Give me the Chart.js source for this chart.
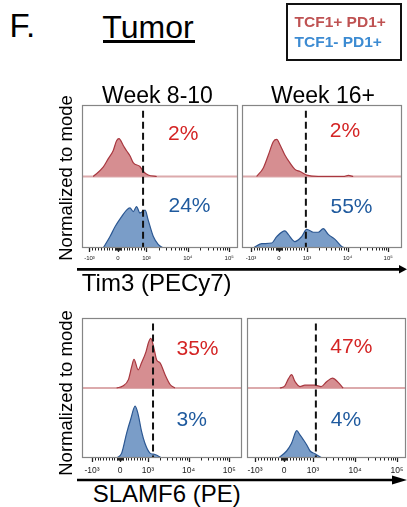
<!DOCTYPE html>
<html><head><meta charset="utf-8">
<script src="https://cdn.jsdelivr.net/npm/chart.js@4.4.1/dist/chart.umd.min.js"></script>
<style>
html,body{margin:0;padding:0;background:#fff;}
body{width:407px;height:507px;position:relative;overflow:hidden;font-family:'Liberation Sans',Arial,Helvetica,sans-serif;color:#000;}
.t{position:absolute;white-space:nowrap;line-height:1;transform:translate(-50%,-50%);}
.l{position:absolute;white-space:nowrap;line-height:1;transform:translateY(-50%);}
.r{position:absolute;white-space:nowrap;line-height:1;transform:translate(-50%,-50%) rotate(-90deg);}
canvas{position:absolute;}
svg{position:absolute;left:0;top:0;}
</style></head><body>
<script>
// ---------------- data ----------------
const PANEL_TITLE = 'Tumor';
const TIMEPOINTS = ['Week 8-10', 'Week 16+'];
const MARKERS = ['Tim3 (PECy7)', 'SLAMF6 (PE)'];
const POPULATIONS = ['TCF1+ PD1+', 'TCF1- PD1+'];
const Y_TITLE = 'Normalized to mode';

// percent positive (TCF1+ PD1+ / TCF1- PD1+) for each timepoint
const TIM3_POS_PCT = [2, 2];
const TIM3_NEG_PCT = [24, 55];
const SLAMF6_POS_PCT = [35, 47];
const SLAMF6_NEG_PCT = [3, 4];

// gate thresholds (fluorescence)
const TIM3_GATE = [880, 960];
const SLAMF6_GATE = [1330, 1170];

// axis ticks (fluorescence values) and labels
const TICK_VALUES = [-1000, 0, 1000, 10000, 100000];
const TICK_LABELS = ['-10\u00B3', '0', '10\u00B3', '10\u2074', '10\u2075'];

// histograms: x in logicle display units, y in % of mode-normalised track height
const TIM3_W8_RED_X  = [-0.87, -0.52, -0.34, -0.17, -0.05, 0.035, 0.19, 0.30, 0.42, 0.54, 0.77, 0.89, 1.06, 1.36];
const TIM3_W8_RED_Y  = [0, 13, 25, 36, 50, 53, 43, 36, 29, 19, 14, 7, 2, 0];
const TIM3_W8_BLUE_X = [-0.52, -0.28, -0.10, 0.13, 0.30, 0.42, 0.54, 0.65, 0.77, 0.95, 1.06, 1.24, 1.41, 1.59];
const TIM3_W8_BLUE_Y = [0, 16, 30, 44, 53, 56, 51, 58, 49, 53, 39, 16, 5, 0];

const TIM3_W16_RED_X  = [-0.80, -0.56, -0.38, -0.20, -0.08, 0.04, 0.21, 0.39, 0.57, 0.75, 0.99, 1.40, 2.30, 2.48, 2.65];
const TIM3_W16_RED_Y  = [0, 12, 30, 49, 52, 44, 30, 19, 10, 7, 2, 0, 0, 1.5, 0];
const TIM3_W16_BLUE_X = [-0.92, -0.62, -0.26, -0.08, 0.21, 0.33, 0.57, 0.81, 0.99, 1.23, 1.40, 1.58, 1.76, 2.00, 2.24, 2.36];
const TIM3_W16_BLUE_Y = [0, 6, 7, 16, 24, 19, 9, 16, 26, 22, 22, 27, 19, 12, 2, 0];

const SLAMF6_W8_RED_X  = [-0.12, 0.10, 0.30, 0.42, 0.50, 0.65, 0.77, 0.93, 1.01, 1.10, 1.21, 1.31, 1.43, 1.61, 1.79, 1.96];
const SLAMF6_W8_RED_Y  = [0, 3, 12, 31, 41, 26, 36, 52, 64, 71, 57, 40, 36, 19, 5, 0];
const SLAMF6_W8_BLUE_X = [-0.12, 0.06, 0.24, 0.38, 0.54, 0.65, 0.77, 0.89, 1.07, 1.25, 1.49];
const SLAMF6_W8_BLUE_Y = [0, 7, 36, 55, 74, 62, 38, 21, 7, 5, 0];

const SLAMF6_W16_RED_X  = [-0.14, 0.03, 0.15, 0.26, 0.38, 0.55, 0.72, 1.07, 1.28, 1.47, 1.67, 1.87, 2.04];
const SLAMF6_W16_RED_Y  = [0, 3, 13, 19, 9, 2, 4, 4, 2, 9, 14, 8, 0];
const SLAMF6_W16_BLUE_X = [-0.20, 0.09, 0.26, 0.44, 0.55, 0.67, 0.78, 0.90, 1.07, 1.30];
const SLAMF6_W16_BLUE_Y = [0, 10, 21, 39, 33, 26, 19, 10, 6, 0];

// ---------------- helpers ----------------
const FONT = "'Liberation Sans', Arial, Helvetica, sans-serif";
const RED_TEXT = '#d42424', BLUE_TEXT = '#1f5a9e';
// logicle-like display transform
const TX = v => Math.abs(v) <= 1000 ? v / 1000 : Math.sign(v) * (1 + 1.45 * Math.log10(Math.abs(v) / 1000));
const MINOR_VALUES = [];
for (let k = 1; k <= 9; k++) { MINOR_VALUES.push(-k * 100, k * 100); }
for (let k = 2; k <= 9; k++) { MINOR_VALUES.push(k * 1000, k * 10000); }
for (let k = 10; k <= 90; k += 20) { MINOR_VALUES.push(-k, k); }

function addText(cls, txt, x, y, size, color, extra) {
  const d = document.createElement('div');
  d.className = cls;
  d.textContent = txt;
  d.style.left = x + 'px';
  d.style.top = y + 'px';
  d.style.fontSize = size + 'px';
  d.style.color = color || '#000';
  if (extra) Object.assign(d.style, extra);
  document.body.appendChild(d);
  return d;
}

const deco = {
  id: 'deco',
  afterDraw(chart) {
    const { ctx, chartArea: a } = chart;
    const x = chart.scales.x;
    ctx.save();
    ctx.strokeStyle = '#222';
    ctx.lineWidth = 1;
    MINOR_VALUES.forEach(v => {
      const u = TX(v);
      if (u < x.min || u > x.max) return;
      const px = Math.round(x.getPixelForValue(u)) + 0.5;
      ctx.beginPath(); ctx.moveTo(px, a.bottom); ctx.lineTo(px, a.bottom + 2.5); ctx.stroke();
    });
    ctx.lineWidth = 1.3;
    TICK_VALUES.forEach(v => {
      const px = Math.round(x.getPixelForValue(TX(v))) + 0.5;
      ctx.beginPath(); ctx.moveTo(px, a.bottom); ctx.lineTo(px, a.bottom + 4); ctx.stroke();
    });
    ctx.strokeStyle = '#858585';
    ctx.lineWidth = 1.2;
    ctx.strokeRect(a.left + 0.5, a.top + 0.5, a.right - a.left - 1, a.bottom - a.top - 1);
    ctx.restore();
  }
};

const GEOM = [
  { L: 82,  T: 105, W: 156, H: 143, min: -1.263, max: 4.211, font: 6,   pad: 7 },
  { L: 242, T: 105, W: 160, H: 143, min: -1.321, max: 4.393, font: 6,   pad: 7 },
  { L: 82,  T: 318, W: 160, H: 140, min: -1.357, max: 4.357, font: 8.5, pad: 8 },
  { L: 247, T: 318, W: 159, H: 140, min: -1.276, max: 4.207, font: 8.5, pad: 8 }
];

function makePanel(i, redX, redY, blueX, blueY, gate) {
  const g = GEOM[i];
  const P = 14, AX = 22;
  const cv = document.createElement('canvas');
  cv.width = g.W + 2 * P;
  cv.height = g.H + P + AX;
  cv.style.left = (g.L - P) + 'px';
  cv.style.top = (g.T - P) + 'px';
  document.body.appendChild(cv);
  const gx = TX(gate);
  new Chart(cv, {
    type: 'line',
    data: {
      datasets: [
        { label: 'gate', data: [{ x: gx, y: 192 }, { x: gx, y: 0 }], borderColor: '#111', borderWidth: 2,
          borderDash: [7, 4], pointRadius: 0, fill: false, order: 0 },
        { label: POPULATIONS[0], data: redX.map((x, k) => ({ x, y: 100 + redY[k] })), borderColor: '#a8373f',
          borderWidth: 1.2, backgroundColor: '#d68e91', fill: { value: 100 }, pointRadius: 0,
          cubicInterpolationMode: 'monotone', order: 1 },
        { label: POPULATIONS[1], data: blueX.map((x, k) => ({ x, y: blueY[k] })), borderColor: '#2b5792',
          borderWidth: 1.2, backgroundColor: '#7a9dc8', fill: 'origin', pointRadius: 0,
          cubicInterpolationMode: 'monotone', order: 2 },
        { label: 'baseline', data: [{ x: g.min, y: 100 }, { x: g.max, y: 100 }], borderColor: '#dcaaac',
          borderWidth: 2, pointRadius: 0, fill: false, order: 3 }
      ]
    },
    options: {
      responsive: false, animation: false, devicePixelRatio: 1, events: [],
      layout: { padding: { left: P, right: P, top: P, bottom: 0 } },
      plugins: { legend: { display: false }, tooltip: { enabled: false } },
      scales: {
        x: {
          type: 'linear', position: 'bottom', min: g.min, max: g.max,
          grid: { display: false, drawTicks: false }, border: { display: false },
          afterBuildTicks: ax => { ax.ticks = TICK_VALUES.map(v => ({ value: TX(v) })); },
          afterFit: ax => { ax.height = AX; },
          ticks: { autoSkip: false, maxRotation: 0, minRotation: 0, padding: g.pad, color: '#222',
                   font: { family: FONT, size: g.font }, callback: (v, idx) => TICK_LABELS[idx] }
        },
        y: { display: false, min: 0, max: 200 }
      }
    },
    plugins: [deco]
  });
}

makePanel(0, TIM3_W8_RED_X, TIM3_W8_RED_Y, TIM3_W8_BLUE_X, TIM3_W8_BLUE_Y, TIM3_GATE[0]);
makePanel(1, TIM3_W16_RED_X, TIM3_W16_RED_Y, TIM3_W16_BLUE_X, TIM3_W16_BLUE_Y, TIM3_GATE[1]);
makePanel(2, SLAMF6_W8_RED_X, SLAMF6_W8_RED_Y, SLAMF6_W8_BLUE_X, SLAMF6_W8_BLUE_Y, SLAMF6_GATE[0]);
makePanel(3, SLAMF6_W16_RED_X, SLAMF6_W16_RED_Y, SLAMF6_W16_BLUE_X, SLAMF6_W16_BLUE_Y, SLAMF6_GATE[1]);

// ---------------- text & decorations ----------------
addText('l', 'F.', 9.5, 24.5, 33);
addText('t', PANEL_TITLE, 148, 27, 32);
const ul = document.createElement('div');
Object.assign(ul.style, { position: 'absolute', left: '103px', top: '40px', width: '92px', height: '2.7px', background: '#000' });
document.body.appendChild(ul);

const lg = document.createElement('div');
Object.assign(lg.style, { position: 'absolute', left: '286px', top: '3px', width: '116px', height: '58px',
  border: '2px solid #111', boxSizing: 'border-box' });
document.body.appendChild(lg);
addText('l', POPULATIONS[0], 294.5, 21.7, 15.5, '#bf5252', { fontWeight: 'bold' });
addText('l', POPULATIONS[1], 294.5, 41.7, 15.5, '#3c8bd2', { fontWeight: 'bold' });

addText('t', TIMEPOINTS[0], 157.5, 95, 23);
addText('t', TIMEPOINTS[1], 323, 95, 23);

addText('t', TIM3_POS_PCT[0] + '%', 183.3, 132, 21, RED_TEXT);
addText('t', TIM3_NEG_PCT[0] + '%', 189.5, 203.7, 21, BLUE_TEXT);
addText('t', TIM3_POS_PCT[1] + '%', 345, 128.5, 21, RED_TEXT);
addText('t', TIM3_NEG_PCT[1] + '%', 351.5, 205, 21, BLUE_TEXT);
addText('t', SLAMF6_POS_PCT[0] + '%', 197.5, 346.5, 21, RED_TEXT);
addText('t', SLAMF6_NEG_PCT[0] + '%', 191.7, 417.5, 21, BLUE_TEXT);
addText('t', SLAMF6_POS_PCT[1] + '%', 351.3, 345, 21, RED_TEXT);
addText('t', SLAMF6_NEG_PCT[1] + '%', 346, 418, 21, BLUE_TEXT);

addText('r', Y_TITLE, 66, 178, 18.5);
addText('r', Y_TITLE, 66, 392.5, 18.5);

addText('t', MARKERS[0], 156.7, 283, 24);
addText('t', MARKERS[1], 166.7, 494, 24);

const NS = 'http://www.w3.org/2000/svg';
const svg = document.createElementNS(NS, 'svg');
svg.setAttribute('width', 407); svg.setAttribute('height', 507);
svg.innerHTML =
  '<line x1="77" y1="269.3" x2="401" y2="269.3" stroke="#000" stroke-width="2.7"/>' +
  '<polygon points="399,265 407,269.3 399,273.6" fill="#000"/>' +
  '<line x1="77" y1="480" x2="394" y2="480" stroke="#000" stroke-width="2.7"/>' +
  '<polygon points="392,475.5 407,480 392,484.5" fill="#000"/>';
document.body.appendChild(svg);
</script>
</body></html>
